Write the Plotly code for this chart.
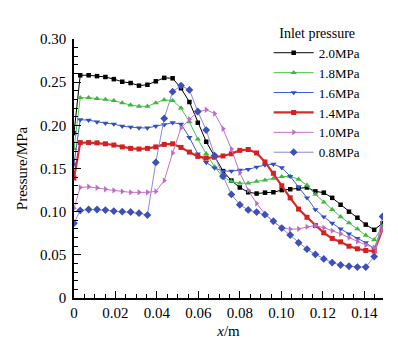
import plotly.graph_objects as go

# x positions of the sampled points (m)
x_pos = [0.0, 0.003, 0.00705, 0.0111, 0.01515, 0.0192, 0.02325, 0.0273, 0.03135, 0.0354,
         0.03945, 0.0435, 0.04755, 0.0516, 0.05565, 0.0597, 0.06375, 0.0678, 0.07185,
         0.0759, 0.07995, 0.084, 0.08805, 0.0921, 0.09615, 0.1002, 0.10425, 0.1083,
         0.11235, 0.1164, 0.12045, 0.1245, 0.12855, 0.1326, 0.13665, 0.1407, 0.14475, 0.1488]

p_20 = [0.191, 0.258, 0.258, 0.257, 0.256, 0.2535, 0.2505, 0.249, 0.246, 0.247, 0.251,
        0.255, 0.2545, 0.243, 0.227, 0.203, 0.181, 0.164, 0.147, 0.136, 0.128, 0.1225,
        0.121, 0.122, 0.1225, 0.125, 0.126, 0.127, 0.128, 0.1235, 0.122, 0.116, 0.108,
        0.100, 0.093, 0.085, 0.079, 0.0866]
p_18 = [0.173, 0.232, 0.232, 0.231, 0.230, 0.2287, 0.226, 0.2235, 0.222, 0.222, 0.226,
        0.2295, 0.2287, 0.220, 0.204, 0.184, 0.167, 0.152, 0.140, 0.135, 0.133, 0.133,
        0.135, 0.1365, 0.1385, 0.1405, 0.141, 0.1375, 0.1305, 0.120, 0.111, 0.1025,
        0.094, 0.087, 0.080, 0.0726, 0.0674, 0.083]
p_16 = [0.155, 0.2065, 0.206, 0.204, 0.2025, 0.2015, 0.199, 0.198, 0.197, 0.197, 0.199,
        0.2007, 0.203, 0.2015, 0.186, 0.167, 0.157, 0.1505, 0.147, 0.147, 0.148, 0.149,
        0.1516, 0.154, 0.155, 0.151, 0.141, 0.129, 0.116, 0.1025, 0.094, 0.0867, 0.080,
        0.0744, 0.069, 0.064, 0.057, 0.081]
p_14 = [0.139, 0.180, 0.180, 0.1797, 0.1786, 0.1772, 0.175, 0.1733, 0.1726, 0.1733, 0.175,
        0.1779, 0.1786, 0.1744, 0.169, 0.164, 0.162, 0.163, 0.1645, 0.167, 0.171, 0.172,
        0.168, 0.1576, 0.1445, 0.130, 0.116, 0.103, 0.0935, 0.084, 0.0755, 0.069, 0.065,
        0.060, 0.057, 0.055, 0.0544, 0.080]
p_10 = [0.104, 0.128, 0.1288, 0.1277, 0.126, 0.1246, 0.1235, 0.1224, 0.1224, 0.1224, 0.1235,
        0.136, 0.168, 0.197, 0.207, 0.2155, 0.218, 0.2137, 0.196, 0.1726, 0.145, 0.125,
        0.1095, 0.097, 0.0884, 0.0814, 0.0797, 0.080, 0.0824, 0.0839, 0.0814, 0.078,
        0.0744, 0.070, 0.0656, 0.0614, 0.0586, 0.080]
p_08 = [0.0867, 0.1014, 0.1025, 0.1025, 0.1018, 0.1007, 0.100, 0.0996, 0.0982, 0.0961, 0.157,
        0.208, 0.239, 0.246, 0.241, 0.216, 0.1945, 0.165, 0.141, 0.120, 0.108, 0.102,
        0.0995, 0.0965, 0.089, 0.081, 0.073, 0.064, 0.0565, 0.0505, 0.0453, 0.041,
        0.0382, 0.0368, 0.0358, 0.0358, 0.048, 0.0944]

series_names = ["2.0MPa", "1.8MPa", "1.6MPa", "1.4MPa", "1.0MPa", "0.8MPa"]
series_vals = [p_20, p_18, p_16, p_14, p_10, p_08]

x_tick_vals = [0, 0.02, 0.04, 0.06, 0.08, 0.10, 0.12, 0.14]
x_tick_text = ["0", "0.02", "0.04", "0.06", "0.08", "0.10", "0.12", "0.14"]
y_tick_vals = [0, 0.05, 0.10, 0.15, 0.20, 0.25, 0.30]
y_tick_text = ["0", "0.05", "0.10", "0.15", "0.20", "0.25", "0.30"]

styles = [
    dict(line="#000000", marker="#000000", symbol="square", size=4.5, width=1),
    dict(line="#4cc44c", marker="#3fb83f", symbol="triangle-up", size=5.5, width=1),
    dict(line="#3a5fd0", marker="#2f50c0", symbol="triangle-down", size=5.5, width=1),
    dict(line="#d92a2a", marker="#d42020", symbol="square", size=5, width=2.2),
    dict(line="#c473c8", marker="#c06ac4", symbol="triangle-right", size=5.5, width=1),
    dict(line="#8a8ae0", marker="#3d4fb8", symbol="diamond", size=6, width=1),
]

FONT = "Liberation Serif, Times New Roman, serif"

fig = go.Figure()
for name, vals, st in zip(series_names, series_vals, styles):
    fig.add_trace(go.Scatter(
        x=x_pos, y=vals, name=name, mode="lines+markers",
        line=dict(color=st["line"], width=st["width"]),
        marker=dict(color=st["marker"], symbol=st["symbol"], size=st["size"],
                    line=dict(width=0)),
    ))

fig.update_layout(
    width=398, height=341,
    margin=dict(l=65, r=23, t=14, b=42),
    paper_bgcolor="white", plot_bgcolor="white",
    font=dict(family=FONT, size=15, color="black"),
    showlegend=True,
    legend=dict(
        x=0.63, y=1.075, xanchor="left", yanchor="top",
        bgcolor="rgba(0,0,0,0)",
        font=dict(family=FONT, size=13, color="black"),
        title=dict(text="Inlet pressure", font=dict(family=FONT, size=14), side="top center"),
        itemwidth=40,
    ),
)

fig.update_xaxes(
    range=[0, 0.149], showgrid=False, zeroline=False,
    showline=True, linecolor="black", linewidth=1.5, mirror=False,
    ticks="inside", ticklen=7, tickwidth=1.2, tickcolor="black",
    tickvals=x_tick_vals, ticktext=x_tick_text,
    tickfont=dict(family=FONT, size=15),
    minor=dict(dtick=0.005, ticks="inside", ticklen=4, tickwidth=1, tickcolor="black"),
    title=dict(text="<i>x</i>/m", font=dict(family=FONT, size=15), standoff=6),
)
fig.update_yaxes(
    range=[0, 0.30], showgrid=False, zeroline=False,
    showline=True, linecolor="black", linewidth=1.5, mirror=False,
    ticks="inside", ticklen=7, tickwidth=1.2, tickcolor="black",
    tickvals=y_tick_vals, ticktext=y_tick_text,
    tickfont=dict(family=FONT, size=15),
    ticklabelstandoff=3,
    minor=dict(dtick=0.01, ticks="inside", ticklen=4, tickwidth=1, tickcolor="black"),
    title=dict(text="Pressure/MPa", font=dict(family=FONT, size=15), standoff=9),
)

fig.write_html("out.html")
